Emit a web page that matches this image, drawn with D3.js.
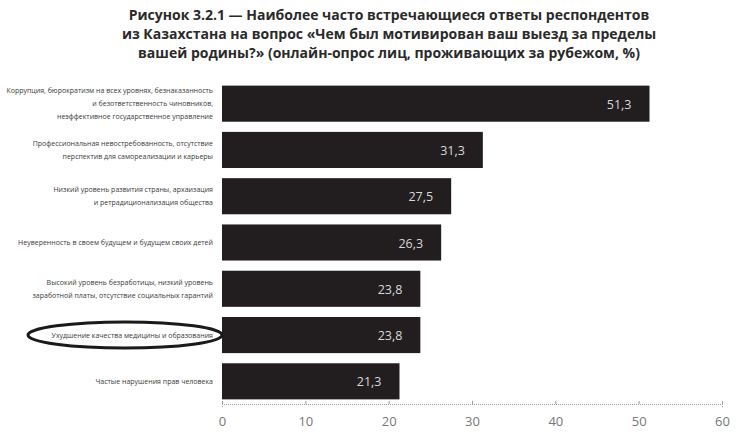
<!DOCTYPE html>
<html>
<head>
<meta charset="utf-8">
<script src="https://cdn.jsdelivr.net/npm/d3@7"></script>
<style>
  body { margin: 0; background: #fff; }
  svg { font-family: "Open Sans", "DejaVu Sans", sans-serif; }
</style>
</head>
<body>
<svg></svg>
<script>
// data
var titleLines = [
  "Рисунок 3.2.1 — Наиболее часто встречающиеся ответы респондентов",
  "из Казахстана на вопрос «Чем был мотивирован ваш выезд за пределы",
  "вашей родины?» (онлайн-опрос лиц, проживающих за рубежом, %)"
];
var categories = [
  ["Коррупция, бюрократизм на всех уровнях, безнаказанность", "и безответственность чиновников,", "неэффективное государственное управление"],
  ["Профессиональная невостребованность, отсутствие", "перспектив для самореализации и карьеры"],
  ["Низкий уровень развития страны, архаизация", "и ретрадиционализация общества"],
  ["Неуверенность в своем будущем и будущем своих детей"],
  ["Высокий уровень безработицы, низкий уровень", "заработной платы, отсутствие социальных гарантий"],
  ["Ухудшение качества медицины и образования"],
  ["Частые нарушения прав человека"]
];
var values = [51.3, 31.3, 27.5, 26.3, 23.8, 23.8, 21.3];
var ticks = [0, 10, 20, 30, 40, 50, 60];
var circled = 5;

var W = 743, H = 438;
var svg = d3.select("svg").attr("width", W).attr("height", H);

var x = d3.scaleLinear().domain([0, 60]).range([222, 722]);
var y = d3.scaleBand().domain(d3.range(categories.length)).range([81, 404]).paddingInner(0.22).paddingOuter(0.1);

// title
svg.append("g").selectAll("text")
  .data(titleLines)
  .enter().append("text")
  .attr("x", 389)
  .attr("y", function(d, i) { return 20 + i * 19; })
  .attr("text-anchor", "middle")
  .style("font-size", "14px")
  .style("font-weight", "bold")
  .style("fill", "#2a2a2a")
  .text(function(d) { return d; });

// bars
svg.append("g").selectAll("rect")
  .data(values)
  .enter().append("rect")
  .attr("x", x(0))
  .attr("y", function(d, i) { return y(i); })
  .attr("width", function(d) { return x(d) - x(0); })
  .attr("height", y.bandwidth())
  .style("fill", "#221e1f");

// value labels
svg.append("g").selectAll("text")
  .data(values)
  .enter().append("text")
  .attr("x", function(d) { return x(d) - 18; })
  .attr("y", function(d, i) { return y(i) + y.bandwidth() / 2 + 5; })
  .attr("text-anchor", "end")
  .style("font-size", "12.5px")
  .style("fill", "#d8d8d8")
  .text(function(d) { return d3.format(".1f")(d).replace(".", ","); });

// category labels
var lab = svg.append("g").selectAll("text")
  .data(categories)
  .enter().append("text")
  .attr("text-anchor", "end")
  .style("font-size", "7px")
  .style("fill", "#3a3a3a")
  .attr("transform", function(d, i) {
    var cy = y(i) + y.bandwidth() / 2 - (d.length - 1) * 6.5 + 2.5;
    return "translate(213," + cy + ")";
  });
lab.selectAll("tspan")
  .data(function(d) { return d; })
  .enter().append("tspan")
  .attr("x", 0)
  .attr("y", function(d, i) { return i * 13; })
  .text(function(d) { return d; });

// ellipse round the circled answer
svg.append("ellipse")
  .attr("cx", 125)
  .attr("cy", y(circled) + y.bandwidth() / 2)
  .attr("rx", 97)
  .attr("ry", 13)
  .style("fill", "none")
  .style("stroke", "#1a1a1a")
  .style("stroke-width", 3);

// x axis
var axis = svg.append("g")
  .attr("transform", "translate(0," + 404 + ")")
  .call(d3.axisBottom(x).tickValues(ticks).tickSize(3).tickPadding(10));
axis.select(".domain").style("stroke", "#999").style("stroke-dasharray", "1,1");
axis.selectAll(".tick line").style("stroke", "#999").attr("y1", -3).attr("y2", 0);
axis.selectAll("text").style("font-size", "13px").style("fill", "#777").style("font-family", "\"Open Sans\", sans-serif");
</script>
</body>
</html>
